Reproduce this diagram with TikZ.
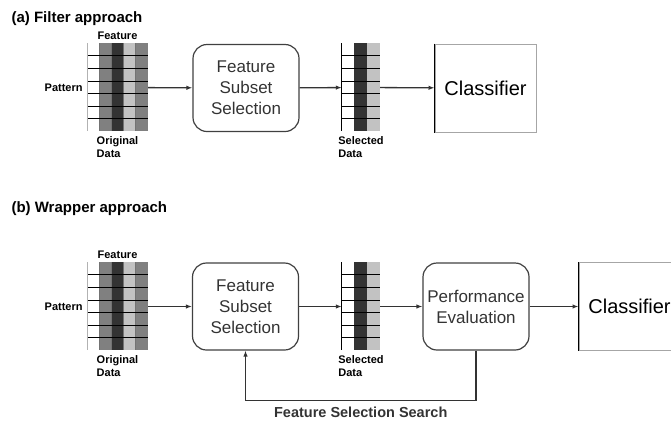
\documentclass[tikz,border=0pt]{standalone}
\usepackage{fontspec}
\setsansfont{Liberation Sans}
\usetikzlibrary{arrows.meta,positioning}

\begin{document}
\begin{tikzpicture}[
    x=1pt,
    y=-1pt,
    font=\sffamily,
    >={Latex[length=6pt,width=4.5pt]},
    flow/.style={->, line width=1.3pt, black!80},
    stagebox/.style={draw=black!75, line width=1.2pt, rounded corners=14pt,
      minimum width=106pt, minimum height=87pt, align=center, text=black!80,
      font=\fontsize{17}{21}\selectfont\sffamily},
    clsbox/.style={draw=black!35, line width=1pt, minimum width=101pt,
      minimum height=88pt, font=\fontsize{20}{24}\selectfont\sffamily},
    datagrid/.style={minimum height=88pt, inner sep=0pt},
    tag/.style={font=\fontsize{11}{13}\selectfont\sffamily\bfseries, inner sep=2pt},
    heading/.style={anchor=base west, font=\fontsize{15}{18}\selectfont\sffamily\bfseries}
  ]
    \clip (0,0) rectangle (671,421);

    % ---------------- (a) Filter approach ----------------
    \node[heading] (titleA) at (8,22) {(a) Filter approach};

    % original data: 5 features x 7 patterns
    \node[datagrid, minimum width=61pt] (origA) at (117.5,87.5) {};
    \begin{scope}[shift={(origA.north west)}]
      \foreach \c [count=\i from 0] in {white,black!50,black!80,black!24,black!50}
        \fill[\c] (\i*12.2,0) rectangle +(12.2,88);
      \foreach \i in {1,...,4}
        \draw[black!55, line width=0.6pt] (\i*12.2,0) -- (\i*12.2,88);
      \foreach \j in {1,...,6}
        \draw[black, line width=0.9pt] (0,\j*12.57) -- (61,\j*12.57);
      \draw[black!30, line width=0.6pt] (0,0) -- (0,88);
    \end{scope}
    \node[tag, above=1pt of origA] (featA) {Feature};
    \node[tag, left=2pt of origA] (patA) {Pattern};
    \node[tag, align=left, below=3pt of origA] (origAlbl) {Original\\Data};

    \node[stagebox] (fssA) at (246,88) {Feature\\Subset\\Selection};

    % selected data: 3 features kept
    \node[datagrid, minimum width=38pt] (selA) at (361,87.5) {};
    \begin{scope}[shift={(selA.north west)}]
      \foreach \c [count=\i from 0] in {white,black!80,black!24}
        \fill[\c] (\i*12.67,0) rectangle +(12.67,88);
      \foreach \j in {1,...,6}
        \draw[black, line width=0.9pt] (0,\j*12.57) -- (38,\j*12.57);
      \draw[black, line width=0.9pt] (0,0) -- (0,88);
    \end{scope}
    \node[tag, align=left, below=3pt of selA] (selAlbl) {Selected\\Data};

    \node[clsbox] (clsA) at (485.5,88) {Classifier};
    \draw[black, line width=1.3pt] (clsA.north west) -- (clsA.south west);

    \draw[flow] (origA) -- (fssA);
    \draw[flow] (fssA) -- (selA);
    \draw[flow] (selA) -- (clsA);

    % ---------------- (b) Wrapper approach ----------------
    \node[heading] (titleB) at (8,212) {(b) Wrapper approach};

    \node[datagrid, minimum width=61pt] (origB) at (117.5,306.5) {};
    \begin{scope}[shift={(origB.north west)}]
      \foreach \c [count=\i from 0] in {white,black!50,black!80,black!24,black!50}
        \fill[\c] (\i*12.2,0) rectangle +(12.2,88);
      \foreach \i in {1,...,4}
        \draw[black!55, line width=0.6pt] (\i*12.2,0) -- (\i*12.2,88);
      \foreach \j in {1,...,6}
        \draw[black, line width=0.9pt] (0,\j*12.57) -- (61,\j*12.57);
      \draw[black!30, line width=0.6pt] (0,0) -- (0,88);
    \end{scope}
    \node[tag, above=1pt of origB] (featB) {Feature};
    \node[tag, left=2pt of origB] (patB) {Pattern};
    \node[tag, align=left, below=3pt of origB] (origBlbl) {Original\\Data};

    \node[stagebox] (fssB) at (245.5,306.5) {Feature\\Subset\\Selection};

    \node[datagrid, minimum width=38pt] (selB) at (361,306.5) {};
    \begin{scope}[shift={(selB.north west)}]
      \foreach \c [count=\i from 0] in {white,black!80,black!24}
        \fill[\c] (\i*12.67,0) rectangle +(12.67,88);
      \foreach \j in {1,...,6}
        \draw[black, line width=0.9pt] (0,\j*12.57) -- (38,\j*12.57);
      \draw[black, line width=0.9pt] (0,0) -- (0,88);
    \end{scope}
    \node[tag, align=left, below=3pt of selB] (selBlbl) {Selected\\Data};

    \node[stagebox] (peB) at (476,306.5) {Performance\\Evaluation};

    \node[clsbox] (clsB) at (629.5,306.5) {Classifier};
    \draw[black, line width=1.3pt] (clsB.north west) -- (clsB.south west);

    \draw[flow] (origB) -- (fssB);
    \draw[flow] (fssB) -- (selB);
    \draw[flow] (selB) -- (peB);
    \draw[flow] (peB) -- (clsB);

    % search loop back to the subset selection
    \draw[flow] (peB.south) -- ++(0,50) -| node[pos=0.25, below=2pt,
      font=\fontsize{14.5}{17}\selectfont\sffamily\bfseries] (loopLbl)
      {Feature Selection Search} (fssB.south);
  \end{tikzpicture}
\end{document}
